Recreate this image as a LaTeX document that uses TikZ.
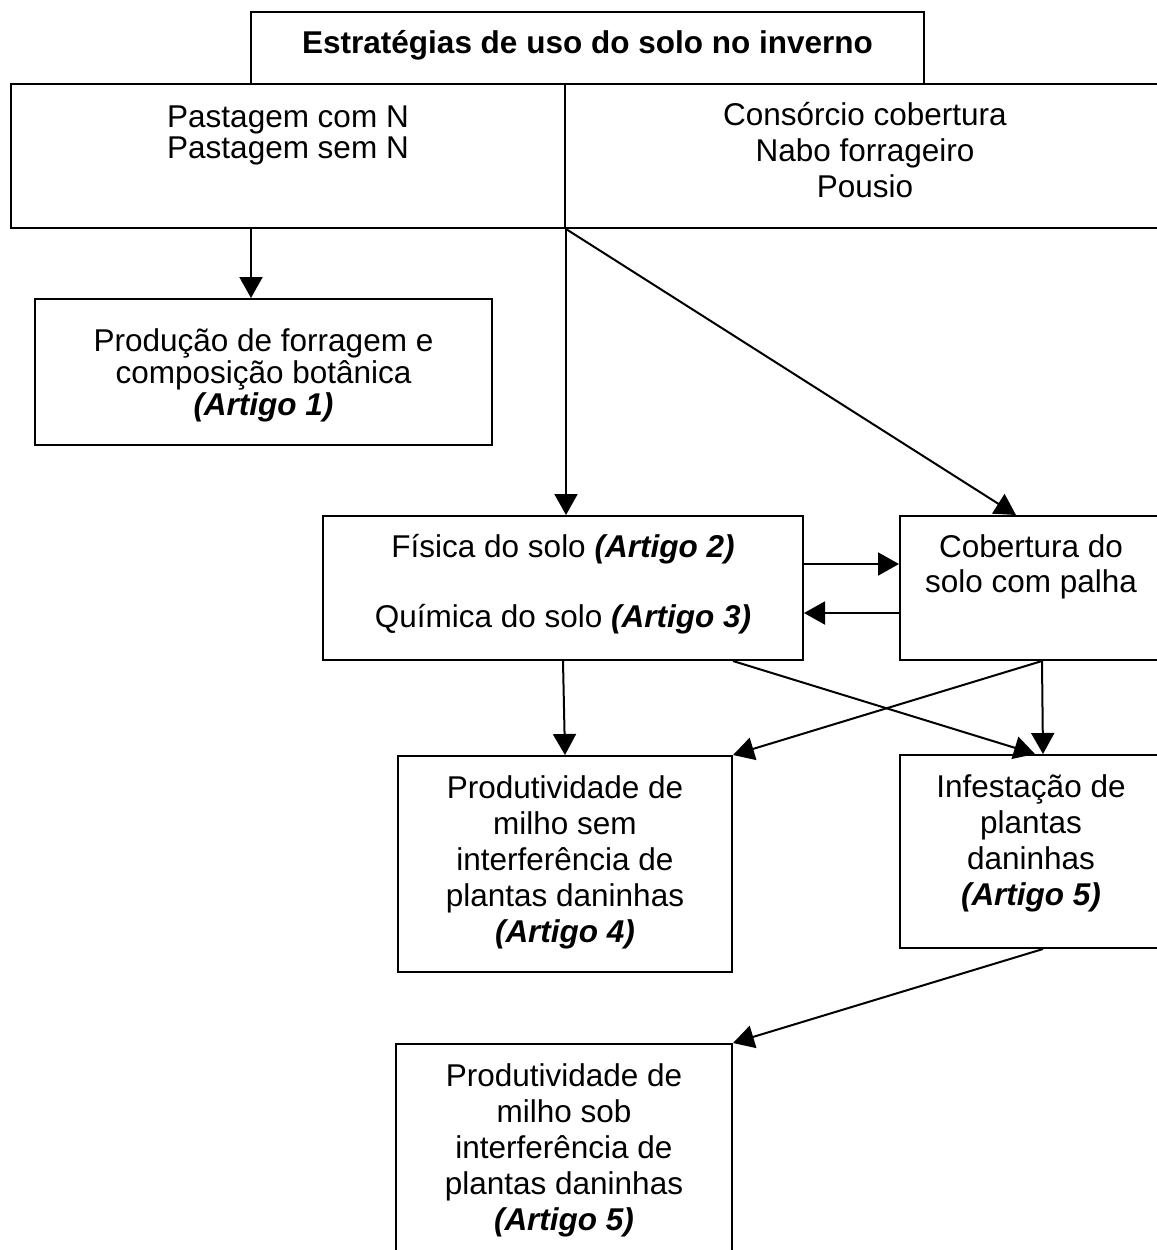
\documentclass[tikz,border=0pt]{standalone}
\usepackage{fontspec}
\setmainfont{Liberation Sans}
\usetikzlibrary{arrows.meta}
\newcommand{\artigo}[1]{\textbf{\textit{(Artigo #1)}}}

\begin{document}
\begin{tikzpicture}[x=0.5pt, y=-0.5pt,
    caixa/.style={draw, line width=1pt, inner sep=0pt},
    texto/.style={inner sep=0pt, align=center, anchor=base},
    seta/.style={line width=1pt, -{Triangle[length=10.5pt,width=11.5pt]}},
    every node/.style={font=\fontsize{15.75pt}{18pt}\selectfont}]
    \clip (0,0) rectangle (1157,1250);

    \node[caixa, minimum width=336.5pt, minimum height=36pt] (titulo) at (587.5,48) {};
    \node[caixa, minimum width=277pt, minimum height=72pt] (esq) at (288,156) {};
    \node[caixa, minimum width=298.5pt, minimum height=72pt] (dir) at (863.5,156) {};
    \node[caixa, minimum width=228.5pt, minimum height=73pt] (producao) at (263.5,372) {};
    \node[caixa, minimum width=240pt, minimum height=72pt] (fisica) at (563,588) {};
    \node[caixa, minimum width=131pt, minimum height=72pt] (cobertura) at (1031,588) {};
    \node[caixa, minimum width=167pt, minimum height=108pt] (prodsem) at (565,864) {};
    \node[caixa, minimum width=131pt, minimum height=96.5pt] (infest) at (1031,851.5) {};
    \node[caixa, minimum width=168pt, minimum height=106pt] (prodsob) at (564,1150) {};

    \node[texto, font=\fontsize{15.75pt}{18pt}\selectfont\bfseries] (ttitulo) at (587.5,53) {Estratégias de uso do solo no inverno};
    \node[texto, font=\fontsize{15.75pt}{15.5pt}\selectfont] (tpast) at (288,158) {Pastagem com N\\Pastagem sem N};
    \node[texto] (tcons) at (865,197) {Consórcio cobertura\\Nabo forrageiro\\Pousio};
    \node[texto, font=\fontsize{15.75pt}{16pt}\selectfont] (tprod) at (263.5,415) {Produção de forragem e\\composição botânica\\\artigo{1}};
    \node[texto] (tfis) at (563,627) {Física do solo \artigo{2}\\[17pt]Química do solo \artigo{3}};
    \node[texto, font=\fontsize{15.75pt}{17.5pt}\selectfont] (tcob) at (1031,592) {Cobertura do\\solo com palha};
    \node[texto] (tsem) at (565,942) {Produtividade de\\milho sem\\interferência de\\plantas daninhas\\\artigo{4}};
    \node[texto] (tinf) at (1031,905) {Infestação de\\plantas\\daninhas\\\artigo{5}};
    \node[texto] (tsob) at (564,1230) {Produtividade de\\milho sob\\interferência de\\plantas daninhas\\\artigo{5}};

    \draw[seta] ([xshift=-6.25pt]producao.north |- esq.south) -- ([xshift=-6.25pt]producao.north);
    \draw[seta] (esq.south east) -- (esq.south east |- fisica.north);
    \draw[seta] (esq.south east) -- ([xshift=-7.5pt]cobertura.north);
    \draw[seta] ([yshift=12pt]fisica.east) -- ([yshift=12pt]fisica.east -| cobertura.west);
    \draw[seta] ([yshift=-12.5pt]cobertura.west) -- ([yshift=-12.5pt]cobertura.west -| fisica.east);
    \draw[seta] (fisica.south) -- (prodsem.north);
    \draw[seta] ([xshift=-35.5pt]fisica.south east) -- ([xshift=2pt]infest.north);
    \draw[seta] ([xshift=5.5pt]cobertura.south) -- (prodsem.north east);
    \draw[seta] ([xshift=5.5pt]cobertura.south) -- ([xshift=6pt]infest.north);
    \draw[seta] ([xshift=6pt]infest.south) -- (prodsob.north east);
\end{tikzpicture}
\end{document}
